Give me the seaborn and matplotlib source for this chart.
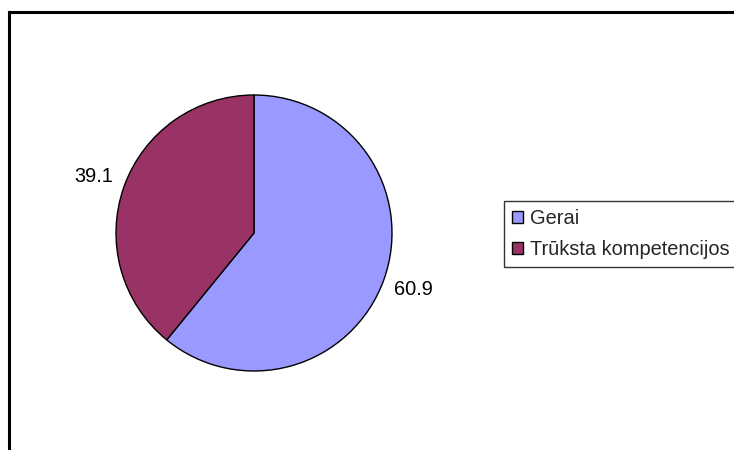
import matplotlib
matplotlib.use("Agg")
import matplotlib.pyplot as plt
import seaborn as sns
from matplotlib.lines import Line2D
from matplotlib.patches import Patch

categories = ["Gerai", "Trūksta kompetencijos"]
values = [60.9, 39.1]
colors = ["#9999FF", "#993366"]

sns.set_style("white")
plt.rcParams['font.family'] = ['Liberation Sans', 'DejaVu Sans']

W, H = 734, 450
fig = plt.figure(figsize=(W / 100, H / 100), dpi=100)
fig.patch.set_facecolor("white")

cx, cy, r = 254, 233, 138
ax = fig.add_axes([(cx - r) / W, (H - cy - r) / H, 2 * r / W, 2 * r / H])
wedges, texts, autotexts = ax.pie(
    values, colors=sns.color_palette(colors), startangle=90, counterclock=False,
    autopct=lambda p: f"{p:.1f}", pctdistance=1.23,
    wedgeprops=dict(edgecolor="black", linewidth=1.0),
    textprops=dict(fontsize=14.4, color="black"),
)
ax.set_xlim(-1, 1)
ax.set_ylim(-1, 1)
ax.set_aspect("equal")
ax.axis("off")
for t in autotexts:
    t.set_clip_on(False)

# frame lines
fig.add_artist(Line2D([8.5 / W, 8.5 / W], [0, 1 - 11.5 / H], transform=fig.transFigure,
                      color="black", linewidth=2.2, solid_capstyle="projecting"))
fig.add_artist(Line2D([8.5 / W, 733 / W], [1 - 11.5 / H, 1 - 11.5 / H], transform=fig.transFigure,
                      color="black", linewidth=2.2, solid_capstyle="projecting"))

handles = [Patch(facecolor=c, edgecolor="black", linewidth=1.0) for c in colors]
leg = fig.legend(handles, categories, loc="upper left", bbox_to_anchor=(504 / W, 1 - 201 / H),
                 fontsize=14.4, frameon=True, fancybox=False, handlelength=0.55, handleheight=0.55,
                 handletextpad=0.35, borderpad=0.4, labelspacing=0.6, borderaxespad=0)
leg.get_frame().set_edgecolor("black")
leg.get_frame().set_linewidth(1.0)

fig.savefig("out.png", dpi=100)
